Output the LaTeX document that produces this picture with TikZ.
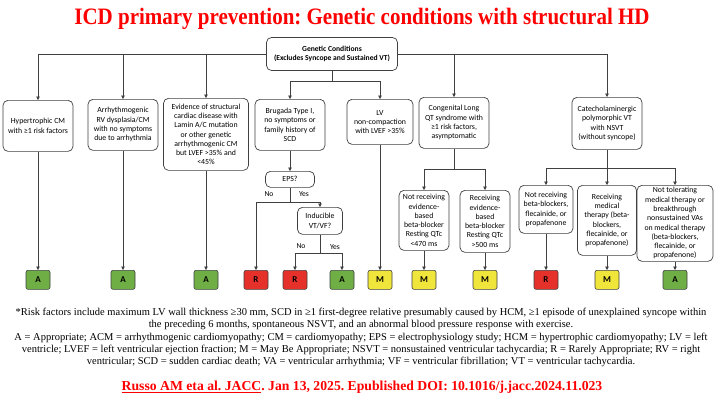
\documentclass[tikz,border=0pt]{standalone}
\usepackage{fontspec}
\setmainfont{Liberation Serif}
\setsansfont{Carlito}
\usetikzlibrary{arrows.meta}
\definecolor{lnc}{HTML}{404040}
\definecolor{gA}{HTML}{6FAE45}
\definecolor{rR}{HTML}{E53129}
\definecolor{yM}{HTML}{F0E53A}
\definecolor{ttl}{HTML}{FF0000}
\begin{document}
\frenchspacing
\begin{tikzpicture}[x=1pt,y=-1pt,
  conn/.style={draw=lnc,line width=0.7pt,-{Triangle[length=3.5pt,width=3.6pt]}},
  plain/.style={draw=lnc,line width=0.7pt},
  box/.style={draw=lnc,line width=0.7pt,rounded corners=5pt,fill=white,align=center,
    font=\sffamily\fontsize{7.8}{9.3}\selectfont,inner sep=1pt,anchor=north},
  res/.style={draw=lnc,line width=0.6pt,rounded corners=2pt,minimum width=24pt,minimum height=19pt,
    font=\sffamily\bfseries\fontsize{9}{10}\selectfont,anchor=north,inner sep=0pt},
  resA/.style={res,fill=gA},
  resR/.style={res,fill=rR},
  resM/.style={res,fill=yM},
  lbl/.style={font=\sffamily\fontsize{7.6}{8}\selectfont,inner sep=0pt},
  foot/.style={font=\fontsize{10.5}{12}\selectfont,inner sep=0pt}
]
\useasboundingbox[fill=white] (0,0) rectangle (720,405);

% title
\node[font=\bfseries\fontsize{21}{24}\selectfont,text=ttl,inner sep=0pt] (title) at (362,19)
  {\scalebox{1}[1.12]{ICD primary prevention: Genetic conditions with structural HD}};

% top box
\node[box,anchor=center,minimum width=131pt,minimum height=33pt,font=\sffamily\bfseries\fontsize{7.6}{9.5}\selectfont] (top) at (332,54)
  {Genetic Conditions\\(Excludes Syncope and Sustained VT)};

% first row
\node[box,minimum width=70pt,minimum height=51pt] (hcm) at (38,100) {Hypertrophic CM\\with ≥1 risk factors};
\node[box,minimum width=70pt,minimum height=51pt] (arvc) at (123,99) {Arrhythmogenic\\RV dysplasia/CM\\with no symptoms\\due to arrhythmia};
\node[box,minimum width=85pt,minimum height=72pt] (lamin) at (206,98) {Evidence of structural\\cardiac disease with\\Lamin A/C mutation\\or other genetic\\arrhythmogenic CM\\but LVEF >35\% and\\<45\%};
\node[box,minimum width=70pt,minimum height=51pt] (brug) at (290,99) {Brugada Type I,\\no symptoms or\\family history of\\SCD};
\node[box,minimum width=66pt,minimum height=45pt] (lvnc) at (380,99) {LV\\non-compaction\\with LVEF >35\%};
\node[box,minimum width=70pt,minimum height=51pt] (lqt) at (454,97) {Congenital Long\\QT syndrome with\\≥1 risk factors,\\asymptomatic};
\node[box,minimum width=70pt,minimum height=52pt] (cpvt) at (607,97) {Catecholaminergic\\polymorphic VT\\with NSVT\\(without syncope)};

% second row
\node[box,minimum width=49pt,minimum height=16pt] (eps) at (290,171) {EPS?};
\node[box,minimum width=45pt,minimum height=27pt] (ind) at (320,207) {Inducible\\VT/VF?};
\node[box,minimum width=50pt,minimum height=60pt] (lqa) at (424,190) {Not receiving\\evidence-\\based\\beta-blocker\\Resting QTc\\<470 ms};
\node[box,minimum width=50pt,minimum height=62pt] (lqb) at (485,190) {Receiving\\evidence-\\based\\beta-blocker\\Resting QTc\\>500 ms};
\node[box,minimum width=54pt,minimum height=48pt] (cpa) at (546,185) {Not receiving\\beta-blockers,\\flecainide, or\\propafenone};
\node[box,minimum width=59pt,minimum height=70pt] (cpb) at (607,185) {Receiving\\medical\\therapy (beta-\\blockers,\\flecainide, or\\propafenone)};
\node[box,minimum width=76pt,minimum height=76pt] (cpc) at (675,185) {Not tolerating\\medical therapy or\\breakthrough\\nonsustained VAs\\on medical therapy\\(beta-blockers,\\flecainide, or\\propafenone)};

% results
\node[resA] (r1) at (38,270) {A};
\node[resA] (r2) at (123,270) {A};
\node[resA] (r3) at (206,270) {A};
\node[resR] (r4) at (256,270) {R};
\node[resR] (r5) at (295,270) {R};
\node[resA] (r6) at (342,270) {A};
\node[resM] (r7) at (380,270) {M};
\node[resM] (r8) at (424,270) {M};
\node[resM] (r9) at (485,270) {M};
\node[resR] (r10) at (546,270) {R};
\node[resM] (r11) at (607,270) {M};
\node[resA] (r12) at (675,270) {A};

% top connectors
\draw[conn] (top.west) -| (hcm.north);
\draw[conn] (top.west) -| (arvc.north);
\draw[conn] (top.west) -| (lamin.north);
\draw[conn] (top.east) -| (lqt.north);
\draw[conn] (top.east) -| (cpvt.north);
\path (top.south) ++(0,10) coordinate (j1);
\draw[plain] (top.south) -- (j1);
\draw[conn] (j1) -| (brug.north);
\draw[conn] (j1) -| (lvnc.north);

% brugada
\draw[conn] (brug.south) -- (eps.north);
\path (eps.south) ++(0,15) coordinate (j2);
\draw[plain] (eps.south) -- (j2);
\draw[conn] (j2) -| (r4.north);
\draw[conn] (j2) -| (ind.north);
\node[lbl] (no1) at (269,194) {No};
\node[lbl] (yes1) at (304,194) {Yes};
\path (ind.south) ++(0,19) coordinate (j3);
\draw[plain] (ind.south) -- (j3);
\draw[conn] (j3) -| (r5.north);
\draw[conn] (j3) -| (r6.north);
\node[lbl] (no2) at (301,246) {No};
\node[lbl] (yes2) at (335,247) {Yes};

% LQT
\path (lqt.south) ++(0,21) coordinate (j4);
\draw[plain] (lqt.south) -- (j4);
\draw[conn] (j4) -| (lqa.north);
\draw[conn] (j4) -| (lqb.north);

% CPVT
\path (cpvt.south) ++(0,19) coordinate (j5);
\draw[plain] (cpvt.south) -- (j5);
\draw[conn] (j5) -| (cpa.north);
\draw[conn] (j5) -- (cpb.north);
\draw[conn] (j5) -| (cpc.north);

% to results
\draw[conn] (hcm.south) -- (r1.north);
\draw[conn] (arvc.south) -- (r2.north);
\draw[conn] (lamin.south) -- (r3.north);
\draw[conn] (lvnc.south) -- (r7.north);
\draw[conn] (lqa.south) -- (r8.north);
\draw[conn] (lqb.south) -- (r9.north);
\draw[conn] (cpa.south) -- (r10.north);
\draw[conn] (cpb.south) -- (r11.north);
\draw[conn] (cpc.south) -- (r12.north);

% footnotes
\node[foot] (f1) at (361,313) {*Risk factors include maximum LV wall thickness ≥30 mm, SCD in ≥1 first-degree relative presumably caused by HCM, ≥1 episode of unexplained syncope within};
\node[foot] (f2) at (361,325) {the preceding 6 months, spontaneous NSVT, and an abnormal blood pressure response with exercise.};
\node[foot] (f3) at (361,338) {A = Appropriate; ACM = arrhythmogenic cardiomyopathy; CM = cardiomyopathy; EPS = electrophysiology study; HCM = hypertrophic cardiomyopathy; LV = left};
\node[foot] (f4) at (361,350) {ventricle; LVEF = left ventricular ejection fraction; M = May Be Appropriate; NSVT = nonsustained ventricular tachycardia; R = Rarely Appropriate; RV = right};
\node[foot] (f5) at (361,362) {ventricular; SCD = sudden cardiac death; VA = ventricular arrhythmia; VF = ventricular fibrillation; VT = ventricular tachycardia.};

\node[font=\bfseries\fontsize{13.7}{15}\selectfont,text=ttl,inner sep=0pt] (cite) at (362,387)
  {\underline{Russo AM eta al. JACC}. Jan 13, 2025. Epublished DOI: 10.1016/j.jacc.2024.11.023};
\end{tikzpicture}
\end{document}
